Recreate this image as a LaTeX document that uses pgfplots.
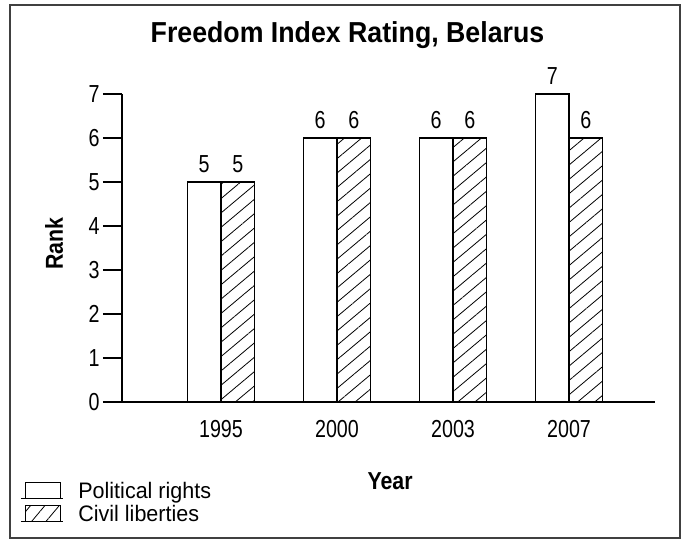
\documentclass[border=0pt]{standalone}
\usepackage{pgfplots}
\pgfplotsset{compat=1.18}
\usepackage{fontspec}
\setmainfont{Liberation Sans}
\newfontfamily\tickfont{Liberation Sans}[FakeStretch=0.8]
\newfontfamily\titlefont{Liberation Sans}[FakeStretch=0.925]
\newfontfamily\labelfont{Liberation Sans}[FakeStretch=0.87]
\newfontfamily\legfont{Liberation Sans}[FakeStretch=0.96]
\usetikzlibrary{patterns.meta}

\begin{document}
\begin{tikzpicture}[x=1bp,y=1bp]
\begin{axis}[
  scale only axis, width=533bp, height=308bp,
  xmin=-0.853, xmax=3.741, ymin=0, ymax=7,
  axis x line=bottom, axis y line=left,
  axis line style={-, line width=1.8bp, black},
  xtick={0,1,2,3}, xticklabels={1995,2000,2003,2007},
  ytick={0,1,2,3,4,5,6,7},
  x tick style={draw=none},
  y tick style={line width=1.8bp, black},
  tick align=outside, major tick length=19bp,
  /pgf/number format/assume math mode=true,
  ticklabel style={font=\tickfont\fontsize{24.7}{28}\selectfont},
  xticklabel style={yshift=4bp},
  clip=false,
  title={Freedom Index Rating, Belarus},
  title style={at={(0.423,1.149)}, anchor=base, font=\titlefont\bfseries\fontsize{29}{34}\selectfont},
  xlabel={Year},
  xlabel style={at={(0.503,-0.2825)}, anchor=base, font=\labelfont\bfseries\fontsize{24.6}{28}\selectfont},
  ylabel={Rank},
  ylabel style={at={(-0.111,0.515)}, anchor=base, font=\labelfont\bfseries\fontsize{24.6}{28}\selectfont},
  legend style={at={(-0.1914,-0.2584)}, anchor=north west, draw=none, fill=none,
    inner sep=0pt, column sep=15bp, row sep=5bp,
    font=\legfont\fontsize{22.5}{26}\selectfont,
    cells={anchor=base west}, nodes={inner sep=0pt}},
  every node near coord/.append style={font=\tickfont\fontsize{24.7}{28}\selectfont, anchor=south, inner sep=0pt, yshift=9bp, text=black},
]
\addplot[ybar, bar width=0.289, bar shift=-0.1445, draw=black, line width=1.2bp, fill=white,
  nodes near coords,
  every node near coord/.append style={xshift=-16.8bp},
  legend image code/.code={\draw[line width=1.2bp, fill=white] (5bp,0bp) rectangle (40bp,16bp); \draw[line width=1.2bp] (0bp,0bp) -- (42bp,0bp);}]
  coordinates {(0,5) (1,6) (2,6) (3,7)};
\addlegendentry{Political rights}
\addplot[ybar, bar width=0.289, bar shift=0.1445, draw=black, line width=1.2bp,
  pattern={Lines[angle=40, distance=11bp, line width=0.8bp]},
  nodes near coords,
  every node near coord/.append style={xshift=16.8bp},
  legend image code/.code={\draw[line width=1.2bp, pattern={Lines[angle=50, distance=11bp, line width=0.8bp]}] (5bp,0bp) rectangle (40bp,16bp); \draw[line width=1.2bp] (0bp,0bp) -- (42bp,0bp);}]
  coordinates {(0,5) (1,6) (2,6) (3,6)};
\addlegendentry{Civil liberties}
\coordinate (O) at (rel axis cs:0,0);
\end{axis}
\pgfresetboundingbox
\begin{scope}[shift={(O)}]
\path[use as bounding box] (-122,-140) rectangle (560,402);
\draw[line width=1.6bp, black!75] (-112,-136) rectangle (558,397);
\end{scope}
\end{tikzpicture}
\end{document}
